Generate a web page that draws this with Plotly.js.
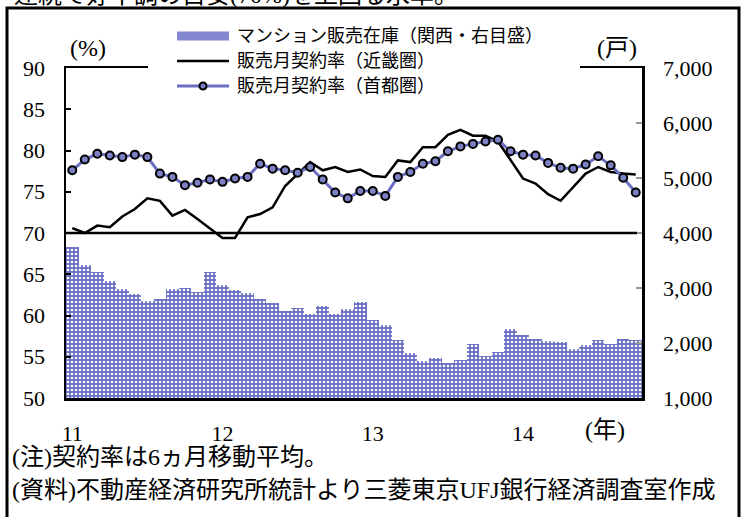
<!DOCTYPE html>
<html>
<head>
<meta charset="utf-8">
<script src="https://cdn.plot.ly/plotly-3.0.1.min.js"></script>
<style>html,body{margin:0;padding:0;background:#fff;}#chart{width:743px;height:517px;}</style>
</head>
<body>
<div id="chart"></div>
<script>
// ---- data ----
const months = [
 '2011-01','2011-02','2011-03','2011-04','2011-05','2011-06','2011-07','2011-08','2011-09','2011-10','2011-11','2011-12',
 '2012-01','2012-02','2012-03','2012-04','2012-05','2012-06','2012-07','2012-08','2012-09','2012-10','2012-11','2012-12',
 '2013-01','2013-02','2013-03','2013-04','2013-05','2013-06','2013-07','2013-08','2013-09','2013-10','2013-11','2013-12',
 '2014-01','2014-02','2014-03','2014-04','2014-05','2014-06','2014-07','2014-08','2014-09','2014-10'
];
const yearTickVals = ['2011-01','2012-01','2013-01','2014-01'];
const yearTickText = ['11','12','13','14'];

// マンション販売在庫（関西）戸
const inventoryKansai = [
 3740,3420,3290,3120,2990,2900,2760,2800,2980,3000,2930,3290,
 3060,2960,2910,2800,2720,2580,2630,2520,2670,2530,2610,2750,
 2410,2330,2060,1810,1670,1730,1630,1700,1990,1770,1840,2250,
 2140,2080,2040,2020,1890,1960,2050,1980,2070,2060
];
// 販売月契約率（近畿圏）%
const rateKinki = [
 70.6,70.0,70.9,70.7,72.0,72.9,74.2,73.9,72.1,72.8,71.7,70.6,
 69.4,69.4,71.9,72.3,73.1,75.7,77.2,78.6,77.6,78.0,77.4,77.7,
 76.9,76.8,78.8,78.6,80.4,80.4,81.9,82.5,81.8,81.8,81.1,78.9,
 76.6,76.0,74.7,73.9,75.6,77.2,78.0,77.4,77.2,77.1
];
// 販売月契約率（首都圏）%
const rateShutoken = [
 77.6,78.9,79.6,79.4,79.2,79.5,79.2,77.2,76.8,75.8,76.1,76.5,
 76.2,76.6,76.8,78.4,77.8,77.6,77.3,78.0,76.5,74.9,74.2,75.1,
 75.1,74.5,76.8,77.4,78.4,78.7,79.9,80.5,80.8,81.1,81.3,79.9,
 79.5,79.4,78.5,77.9,77.8,78.3,79.3,78.2,76.7,74.9
];
const thresholdRate = 70;

const seriesNames = ['マンション販売在庫（関西・右目盛）','販売月契約率（近畿圏）','販売月契約率（首都圏）'];

// ---- styling ----
const FONT = "'Liberation Serif', 'Times New Roman', 'Noto Sans CJK JP', serif";
const BAR_BLUE = '#666cc0';
const LINE_BLUE = '#6a6fc2';

// pixel -> paper helpers (plot area: x 66..642, y 68..398)
const L = 66, R = 642, T = 68, B = 398;
const px = v => (v - L) / (R - L);
const py = v => (B - v) / (B - T);

const traces = [
  {
    type: 'bar', x: months, y: inventoryKansai, name: seriesNames[0], yaxis: 'y',
    marker: { color: BAR_BLUE, line: { width: 0 },
      pattern: { shape: '.', fgcolor: '#ffffff', bgcolor: BAR_BLUE, size: 4, solidity: 0.35, fillmode: 'replace' } },
    showlegend: false, hoverinfo: 'skip'
  },
  {
    type: 'scatter', mode: 'lines', x: months, y: rateKinki, name: seriesNames[1], yaxis: 'y2',
    line: { color: '#000000', width: 2.5 }, showlegend: false
  },
  {
    type: 'scatter', mode: 'lines+markers', x: months, y: rateShutoken, name: seriesNames[2], yaxis: 'y2',
    line: { color: LINE_BLUE, width: 3 },
    marker: { symbol: 'circle', size: 8, color: '#7c80c4', line: { color: '#000000', width: 2 } },
    showlegend: false
  }
];

const rowY = [36, 61, 86];
const swX0 = 177, swX1 = 229, txtX = 235;

const shapes = [
  // 70% threshold line
  { type: 'line', xref: 'x', yref: 'y2', x0: -0.5, x1: 45.1, y0: thresholdRate, y1: thresholdRate,
    line: { color: '#000', width: 2.5 }, layer: 'above' },
  // white gap in top frame behind legend
  { type: 'rect', xref: 'paper', yref: 'paper', x0: px(148), x1: px(580), y0: py(73), y1: py(63),
    fillcolor: '#ffffff', line: { width: 0 }, layer: 'above' },
  // outer frame
  { type: 'rect', xref: 'paper', yref: 'paper', x0: px(7), x1: px(739), y0: py(540), y1: py(8),
    line: { color: '#000', width: 3 }, fillcolor: 'rgba(0,0,0,0)', layer: 'above' },
  // legend swatches
  { type: 'rect', xref: 'paper', yref: 'paper', x0: px(swX0), x1: px(swX1), y0: py(rowY[0] + 4.5), y1: py(rowY[0] - 4.5),
    fillcolor: '#8287cf', line: { width: 0 }, layer: 'above' },
  { type: 'line', xref: 'paper', yref: 'paper', x0: px(swX0), x1: px(swX1), y0: py(rowY[1]), y1: py(rowY[1]),
    line: { color: '#000', width: 2.5 }, layer: 'above' },
  { type: 'line', xref: 'paper', yref: 'paper', x0: px(swX0), x1: px(swX1), y0: py(rowY[2]), y1: py(rowY[2]),
    line: { color: LINE_BLUE, width: 3 }, layer: 'above' },
  { type: 'circle', xref: 'paper', yref: 'paper', xsizemode: 'pixel', ysizemode: 'pixel',
    xanchor: px((swX0 + swX1) / 2), yanchor: py(rowY[2]), x0: -3.5, x1: 3.5, y0: -3.5, y1: 3.5,
    fillcolor: '#7c80c4', line: { color: '#000', width: 2 }, layer: 'above' }
];

const ann = (text, x, y, size, xanchor) => ({
  text, xref: 'paper', yref: 'paper', x: px(x), y: py(y), xanchor: xanchor || 'center', yanchor: 'middle',
  showarrow: false, font: { family: FONT, size: size, color: '#000' }
});

const annotations = [
  ann(seriesNames[0], txtX, rowY[0], 18, 'left'),
  ann(seriesNames[1], txtX, rowY[1], 18, 'left'),
  ann(seriesNames[2], txtX, rowY[2], 18, 'left'),
  ann('(%)', 88, 48, 24),
  ann('(戸)', 617, 48, 24),
  ann('(年)', 605, 430, 24),
  ann('(注)契約率は6ヵ月移動平均。', 10, 457, 24, 'left'),
  ann('(資料)不動産経済研究所統計より三菱東京UFJ銀行経済調査室作成', 10, 490, 24, 'left'),
  ann('連続で好不調の目安(70%)を上回る水準。', 12, -5, 24, 'left')
];

const layout = {
  width: 743, height: 517,
  margin: { l: L, r: 743 - R, t: T, b: 517 - B },
  paper_bgcolor: '#ffffff', plot_bgcolor: '#ffffff',
  bargap: 0,
  showlegend: false,
  font: { family: FONT, color: '#000' },
  xaxis: {
    type: 'category', categoryorder: 'array', categoryarray: months,
    range: [-0.5, 45.5], tickmode: 'array', tickvals: yearTickVals, ticktext: yearTickText,
    showline: true, linecolor: '#000', linewidth: 2.5, mirror: true,
    ticks: '', showgrid: false, zeroline: false,
    tickfont: { family: FONT, size: 22, color: '#000' }, ticklabelstandoff: 14
  },
  yaxis: {
    side: 'right', range: [1000, 7000], dtick: 1000, tickformat: ',d',
    ticks: 'inside', ticklen: 6, tickcolor: '#999', tickwidth: 1.5,
    showline: true, linecolor: '#000', linewidth: 2.5,
    showgrid: false, zeroline: false,
    tickfont: { family: FONT, size: 22, color: '#000' }, ticklabelstandoff: 14
  },
  yaxis2: {
    overlaying: 'y', side: 'left', range: [50, 90], dtick: 5,
    ticks: 'inside', ticklen: 5, tickcolor: '#000', tickwidth: 2,
    showline: true, linecolor: '#000', linewidth: 2.5,
    showgrid: false, zeroline: false,
    tickfont: { family: FONT, size: 22, color: '#000' }, ticklabelstandoff: 14
  },
  shapes: shapes,
  annotations: annotations
};

Plotly.newPlot('chart', traces, layout, { staticPlot: true, displayModeBar: false });
</script>
</body>
</html>
